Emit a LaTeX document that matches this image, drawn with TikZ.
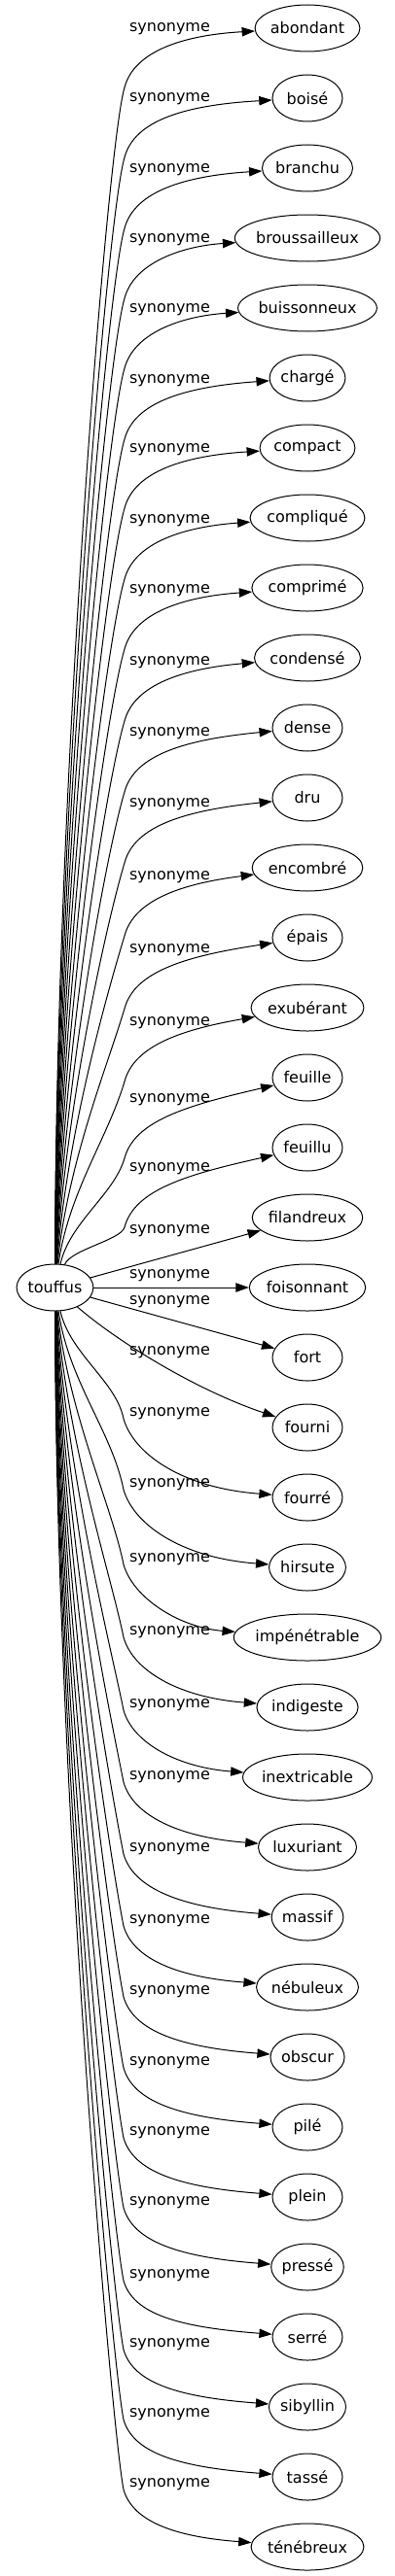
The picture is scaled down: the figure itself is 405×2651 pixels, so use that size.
\documentclass[tikz,border=0pt]{standalone}
\usepackage{fontspec}
\setmainfont{DejaVu Sans}
\usetikzlibrary{arrows.meta, shapes.geometric}
\newlength\wordwd
\newcommand\wordfont{\fontsize{12}{14}\selectfont}
\tikzset{
  word/.style={draw, ellipse, line width=0.75pt, inner xsep=0pt, inner ysep=0pt, minimum height=36pt, font=\wordfont},
  synlabel/.style={font=\wordfont, inner sep=0pt},
  synarrow/.style={line width=0.75pt, -{Triangle[length=10pt, width=7pt]}},
}

\begin{document}
\begin{tikzpicture}[x=0.75pt, y=-0.75pt]
\useasboundingbox (0,0) rectangle (405,2651);

% Head word
\settowidth\wordwd{\wordfont touffus}
\node[word, minimum width={max(54pt,1.2*\wordwd+26pt)}] (t) at (56.5,1325) {touffus};

% Synonyms, their labels and arrows
\foreach \w/\ly [count=\i from 0] in {abondant/30, boisé/102, branchu/175, broussailleux/247,
    buissonneux/319, chargé/392, compact/463, compliqué/536, comprimé/608, condensé/682,
    dense/755, dru/828, encombré/903, épais/978, exubérant/1053, feuille/1132, feuillu/1203,
    filandreux/1267, foisonnant/1313, fort/1340, fourni/1392, fourré/1455, hirsute/1528,
    impénétrable/1605, indigeste/1680, inextricable/1755, luxuriant/1829, massif/1903,
    nébuleux/1977, obscur/2050, pilé/2123, plein/2195, pressé/2267, serré/2342,
    sibyllin/2413, tassé/2485, ténébreux/2557}{
  \pgfmathsetmacro\ty{29+72*\i}
  \settowidth\wordwd{\wordfont \w}
  \node[word, minimum width={max(54pt,1.2*\wordwd+26pt)}] (s\i) at (316,\ty) {\w};
  \node[synlabel] (l\i) at (174.5,\ly) {synonyme};
  \ifnum\i<17
    % going up
    \pgfmathsetmacro\L{1301-\ly-60}
    \pgfmathsetmacro\d{min(60,0.35*\L)}
    \draw[synarrow] (t) .. controls ({57+\i},{1301-0.4*\L}) and ({128-0.3*\d},{\ly+60+\d}) .. (128,{\ly+60})
      .. controls (138,{\ly+22}) and (190,{\ly+6}) .. (s\i);
  \else\ifnum\i<20
    \draw[synarrow] (t) -- (s\i);
  \else\ifnum\i=20
    \draw[synarrow] (t) .. controls (120,1380) and (200,1430) .. (s\i);
  \else
    % going down
    \pgfmathsetmacro\L{\ly+5-1349}
    \pgfmathsetmacro\d{min(60,0.35*\L)}
    \draw[synarrow] (t) .. controls ({93-\i},{1349+0.4*\L}) and ({127-0.2*\d},{\ly+5-\d}) .. (127,{\ly+5})
      .. controls (137,{\ly+40}) and (185,{\ty-10}) .. (s\i);
  \fi\fi\fi
}
\end{tikzpicture}
\end{document}
